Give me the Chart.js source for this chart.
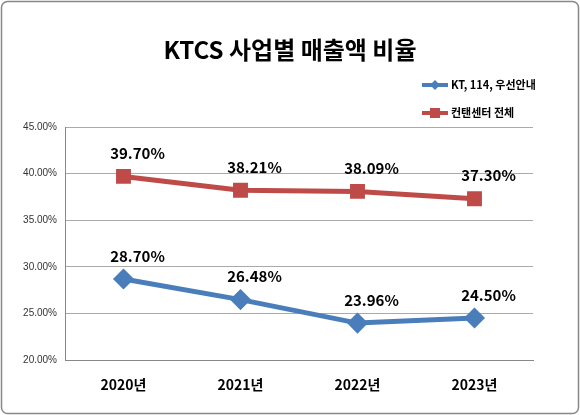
<!DOCTYPE html>
<html><head><meta charset="utf-8">
<script src="https://cdn.jsdelivr.net/npm/chart.js@4"></script>
<style>html,body{margin:0;padding:0;background:#fff}canvas{display:block}</style>
</head><body>
<canvas id="c" width="580" height="415"></canvas>
<script>
const categories = ['2020년','2021년','2022년','2023년'];
const seriesKT = [28.70, 26.48, 23.96, 24.50];
const seriesCC = [39.70, 38.21, 38.09, 37.30];
const seriesNames = ['KT, 114, 우선안내','컨탠센터 전체'];
const titleText = 'KTCS 사업별 매출액 비율';
const F = "'Noto Sans CJK KR','Liberation Sans',sans-serif";

const deco = {
  id:'deco',
  beforeDraw(ch){
    const c=ch.ctx; c.save();
    c.fillStyle='#fff'; c.fillRect(0,0,580,415);
    c.strokeStyle='#888'; c.lineWidth=1.5;
    c.beginPath(); c.roundRect(1.5,1.5,577,412,6); c.stroke();
    c.restore();
  },
  afterDraw(ch){
    const c=ch.ctx; c.save();
    c.fillStyle='#000'; c.textAlign='center'; c.textBaseline='middle';
    c.font="bold 24px "+F; c.fillText(titleText,290,50);
    const items=[{col:'#4a7ebb',y:85,shape:'d'},{col:'#be4b48',y:113,shape:'s'}];
    items.forEach((it,i)=>{
      c.strokeStyle=it.col; c.lineWidth=4;
      c.beginPath(); c.moveTo(422,it.y); c.lineTo(448,it.y); c.stroke();
      c.fillStyle=it.col;
      if(it.shape==='d'){c.beginPath();c.moveTo(435,it.y-5);c.lineTo(440,it.y);c.lineTo(435,it.y+5);c.lineTo(430,it.y);c.fill();}
      else c.fillRect(430,it.y-5,10,10);
      c.fillStyle='#000'; c.textAlign='left'; c.font="bold 11px "+F;
      c.fillText(seriesNames[i],451,it.y);
    });
    c.textAlign='center'; c.font="bold 15px "+F;
    ch.data.datasets.forEach((ds,di)=>{
      ch.getDatasetMeta(di).data.forEach((p,j)=>{
        c.fillText(ds.data[j].toFixed(2)+'%',p.x+14,p.y-23);
      });
    });
    c.restore();
  }
};

new Chart(document.getElementById('c'),{
  type:'line',
  data:{labels:categories,datasets:[
    {label:seriesNames[0],data:seriesKT,borderColor:'#4a7ebb',backgroundColor:'#4a7ebb',borderWidth:5,pointStyle:'rectRot',pointRadius:7,pointHoverRadius:7,tension:0},
    {label:seriesNames[1],data:seriesCC,borderColor:'#be4b48',backgroundColor:'#be4b48',borderWidth:5,pointStyle:'rect',pointRadius:7,pointHoverRadius:7,tension:0}
  ]},
  options:{
    responsive:false,animation:false,
    layout:{padding:{top:127,right:47,bottom:10,left:5}},
    plugins:{legend:{display:false},title:{display:false},tooltip:{enabled:false}},
    scales:{
      x:{offset:true,grid:{display:false,drawTicks:false,offset:true},border:{color:'#888'},
        ticks:{color:'#000',font:{family:F,size:14,weight:'bold'},padding:16},
        afterFit(s){s.height=45;}},
      y:{min:20,max:45,grid:{color:'#aaa',drawTicks:false},border:{color:'#888'},
        ticks:{stepSize:5,color:'#333',font:{family:"'Liberation Sans',sans-serif",size:10},padding:8,callback:v=>v.toFixed(2)+'%'},
        afterFit(s){s.width=60;}}
    }
  },
  plugins:[deco]
});
</script>
</body></html>
